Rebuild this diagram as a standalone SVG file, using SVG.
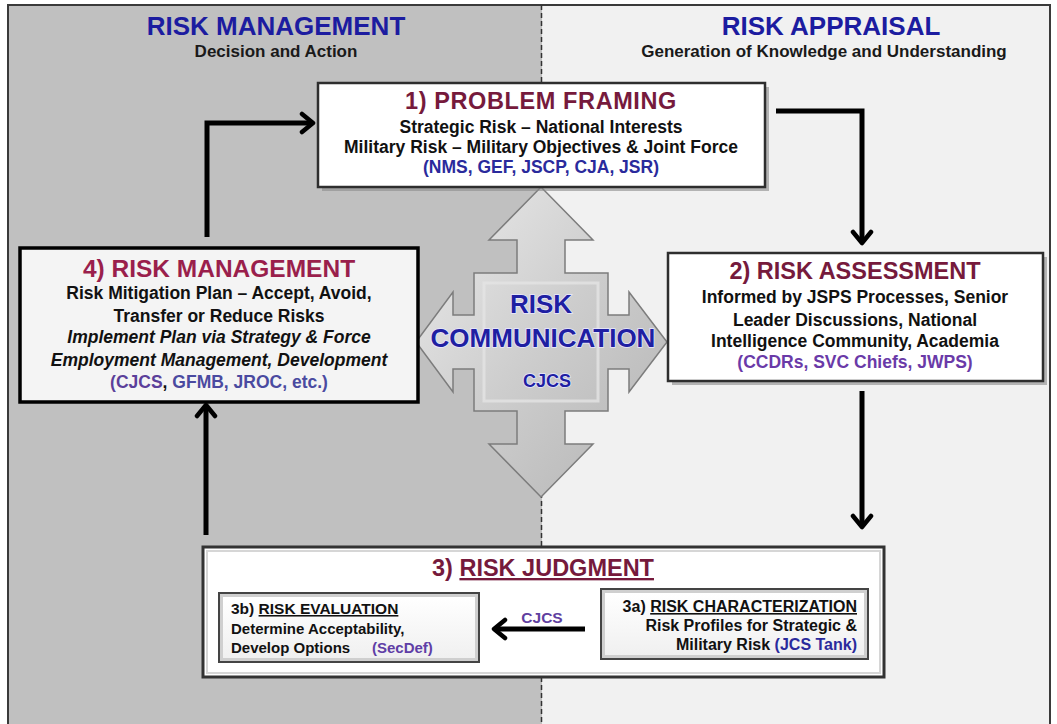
<svg xmlns="http://www.w3.org/2000/svg" width="1057" height="724" viewBox="0 0 1057 724">
<defs>
<style>
text{font-family:"Liberation Sans",Arial,sans-serif;font-weight:bold;}
.hdr{font-size:26px;fill:#1c1ca0;text-anchor:middle;}
.sub{font-size:17px;fill:#1a1a1a;text-anchor:middle;}
.ttl{font-size:23.5px;fill:#761a3c;text-anchor:middle;}
.body{font-size:17.5px;fill:#111;text-anchor:middle;}
.it{font-style:italic;}
.blue{fill:#2a2a9c;}
.purp{fill:#5f3ea6;}
.small{font-size:15.5px;fill:#111;}
.conn{fill:none;stroke:#000;stroke-width:5;}
.comm{font-size:26px;fill:#1f1fa2;text-anchor:middle;stroke:#e8e8ff;stroke-width:1.5;paint-order:stroke;}
</style>
<marker id="chev" markerUnits="userSpaceOnUse" viewBox="-14 -12 18 24" refX="0" refY="0" markerWidth="18" markerHeight="24" orient="auto">
<polyline points="-11,-9 0,0 -11,9" fill="none" stroke="#000" stroke-width="4.5" stroke-linecap="round" stroke-linejoin="round"/>
</marker>
<linearGradient id="crossg" x1="0" y1="0" x2="1" y2="1">
<stop offset="0" stop-color="#ececec"/>
<stop offset="0.5" stop-color="#cdcdcd"/>
<stop offset="1" stop-color="#b3b3b3"/>
</linearGradient>
<linearGradient id="subg" x1="0" y1="0" x2="0" y2="1">
<stop offset="0" stop-color="#ffffff"/>
<stop offset="1" stop-color="#f0f0f0"/>
</linearGradient>
</defs>

<g id="background">
<rect x="0" y="0" width="1057" height="724" fill="#ffffff"/>
<rect x="8" y="5" width="534" height="730" fill="#c0c0c0"/>
<rect x="542" y="5" width="508" height="730" fill="#f1f1f1"/>
<path d="M8,730 V5 H1050 V730" fill="none" stroke="#3a3a3a" stroke-width="2"/>
<line x1="541.5" y1="5" x2="541.5" y2="724" stroke="#333" stroke-width="1.5" stroke-dasharray="5,3"/>
</g>

<g id="header-left">
<text class="hdr" x="276" y="35">RISK MANAGEMENT</text>
<text class="sub" x="276" y="57">Decision and Action</text>
</g>
<g id="header-right">
<text class="hdr" x="831" y="35">RISK APPRAISAL</text>
<text class="sub" x="824" y="57">Generation of Knowledge and Understanding</text>
</g>

<g id="connectors">
<path class="conn" d="M207,237 V123 H313" marker-end="url(#chev)"/>
<path class="conn" d="M776,111 H862 V243" marker-end="url(#chev)"/>
<path class="conn" d="M862,391 V527" marker-end="url(#chev)"/>
<path class="conn" d="M206,535 V405" marker-end="url(#chev)"/>
</g>

<g id="risk-communication">
<path d="M541,187 L593,240 L565,240 L565,273 L608,273 L608,315 L629,315 L629,292 L667,342 L629,392 L629,369 L608,369 L608,411 L565,411 L565,444 L593,444 L541,497 L489,444 L517,444 L517,411 L474,411 L474,369 L453,369 L453,392 L416,342 L453,292 L453,315 L474,315 L474,273 L517,273 L517,240 L489,240 Z" fill="url(#crossg)" stroke="#7c7c7c" stroke-width="1.5" stroke-linejoin="miter"/>
<rect x="484" y="283" width="114" height="118" fill="none" stroke="#e4e4e4" stroke-width="3" opacity="0.8"/>
<text class="comm" x="541" y="313">RISK</text>
<text class="comm" x="543" y="347">COMMUNICATION</text>
<text class="comm" x="547" y="387" style="font-size:18px">CJCS</text>
</g>

<g id="box1">
<rect x="322" y="87" width="447" height="104" fill="#8a8a8a" opacity="0.6"/>
<rect x="318" y="83" width="447" height="104" fill="#ffffff" stroke="#2e2e2e" stroke-width="2.5"/>
<text class="ttl" x="541" y="109" letter-spacing="0.6">1) PROBLEM FRAMING</text>
<text class="body" x="541" y="133">Strategic Risk – National Interests</text>
<text class="body" x="541" y="153">Military Risk – Military Objectives &amp; Joint Force</text>
<text class="body blue" x="541" y="173">(NMS, GEF, JSCP, CJA, JSR)</text>
</g>

<g id="box2">
<rect x="672" y="257" width="375" height="128" fill="#8a8a8a" opacity="0.6"/>
<rect x="668" y="253" width="375" height="128" fill="#ffffff" stroke="#2e2e2e" stroke-width="2.5"/>
<text class="ttl" x="855" y="279">2) RISK ASSESSMENT</text>
<text class="body" x="855" y="303">Informed by JSPS Processes, Senior</text>
<text class="body" x="855" y="326">Leader Discussions, National</text>
<text class="body" x="855" y="347">Intelligence Community, Academia</text>
<text class="body" x="855" y="368" style="fill:#6a3aa8">(CCDRs, SVC Chiefs, JWPS)</text>
</g>

<g id="box4">
<rect x="20" y="248" width="398" height="154" fill="#f4f4f4" stroke="#000" stroke-width="3.5"/>
<text class="ttl" x="219" y="277" style="font-size:24.5px;fill:#9a1f4c">4) RISK MANAGEMENT</text>
<text class="body" x="219" y="299">Risk Mitigation Plan – Accept, Avoid,</text>
<text class="body" x="219" y="322">Transfer or Reduce Risks</text>
<text class="body it" x="219" y="343">Implement Plan via Strategy &amp; Force</text>
<text class="body it" x="219" y="366">Employment  Management, Development</text>
<text class="body" x="219" y="388"><tspan style="fill:#5b3f9a">(CJCS</tspan>, <tspan style="fill:#4a4aa0">GFMB, JROC, etc.)</tspan></text>
</g>

<g id="box3">
<rect x="203" y="547" width="681" height="130" fill="#ffffff" stroke="#333" stroke-width="3"/>
<rect x="207" y="551" width="673" height="122" fill="none" stroke="#d6d6d6" stroke-width="2"/>
<text class="ttl" x="543" y="576">3) <tspan text-decoration="underline">RISK JUDGMENT</tspan></text>
</g>

<g id="box3b">
<rect x="219" y="593" width="260" height="69" fill="#cfcfcf" stroke="#444" stroke-width="2"/>
<rect x="223" y="597" width="252" height="61" fill="url(#subg)"/>
<text class="small" x="231" y="614">3b) <tspan text-decoration="underline">RISK EVALUATION</tspan></text>
<text class="small" x="231" y="634" style="font-size:15px">Determine Acceptability,</text>
<text class="small" x="231" y="653" style="font-size:15px">Develop Options <tspan x="372" class="purp">(SecDef)</tspan></text>
</g>

<g id="box3a">
<rect x="601" y="589" width="267" height="70" fill="#cfcfcf" stroke="#444" stroke-width="2"/>
<rect x="605" y="593" width="259" height="62" fill="url(#subg)"/>
<text class="small" x="857" y="612" text-anchor="end" style="font-size:16px">3a) <tspan text-decoration="underline">RISK CHARACTERIZATION</tspan></text>
<text class="small" x="857" y="631" text-anchor="end" style="font-size:16px">Risk Profiles for Strategic &amp;</text>
<text class="small" x="857" y="650" text-anchor="end" style="font-size:16px">Military Risk <tspan class="blue">(JCS Tank)</tspan></text>
</g>

<g id="cjcs-link">
<line class="conn" x1="585" y1="629" x2="494" y2="629" marker-end="url(#chev)"/>
<text x="542" y="623" style="font-size:15.5px;fill:#6040a0;text-anchor:middle">CJCS</text>
</g>
</svg>
